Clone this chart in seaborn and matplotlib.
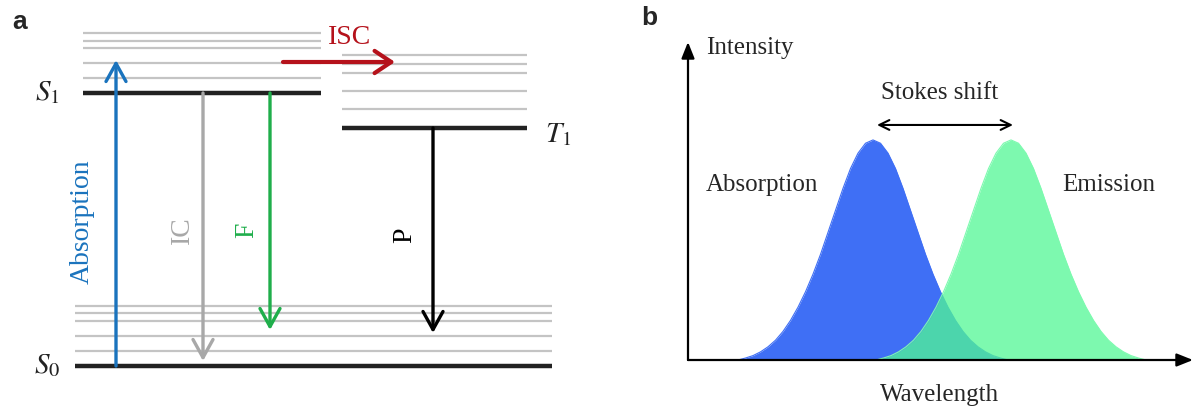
import matplotlib
matplotlib.use("Agg")
import matplotlib.pyplot as plt
import seaborn as sns
import pandas as pd

# ---------------- Panel a data (energies in arbitrary units) ----------------
level_names = ["S0", "S1", "T1"]
level_energy = [0.0, 2.73, 2.38]
s0_vib = [0.15, 0.30, 0.45, 0.53, 0.60]
s1_vib = [2.88, 3.03, 3.18, 3.25, 3.33]
t1_vib = [2.57, 2.75, 2.93, 3.02, 3.11]
transition_labels = ["Absorption", "IC", "F", "P"]
transition_start = [0.0, 2.73, 2.73, 2.38]
transition_end = [3.06, 0.05, 0.36, 0.33]
isc_label = "ISC"
isc_energy = 3.04

# ---------------- Panel b data (spectra) ----------------
abs_x = [10.0, 11.5, 13.0, 14.5, 16.0, 17.5, 19.0, 20.5, 22.0, 23.5, 25.0, 26.5,
         28.0, 29.5, 31.0, 32.5, 34.0, 35.5, 37.0, 38.5, 40.0, 41.5, 43.0, 44.5,
         46.0, 47.5, 49.0, 50.5, 52.0, 53.5, 55.0, 56.5, 58.0, 59.5, 61.0, 62.5, 64.0]
abs_y = [0.0, 0.009, 0.02, 0.037, 0.06, 0.09, 0.13, 0.18, 0.24, 0.31, 0.39, 0.48,
         0.58, 0.68, 0.78, 0.87, 0.94, 0.985, 1.0, 0.985, 0.94, 0.87, 0.78, 0.68,
         0.58, 0.48, 0.39, 0.31, 0.24, 0.18, 0.13, 0.09, 0.06, 0.037, 0.02, 0.009, 0.0]
em_x = [37.6, 39.1, 40.6, 42.1, 43.6, 45.1, 46.6, 48.1, 49.6, 51.1, 52.6, 54.1,
        55.6, 57.1, 58.6, 60.1, 61.6, 63.1, 64.6, 66.1, 67.6, 69.1, 70.6, 72.1,
        73.6, 75.1, 76.6, 78.1, 79.6, 81.1, 82.6, 84.1, 85.6, 87.1, 88.6, 90.1, 91.6]
em_y = [0.0, 0.009, 0.02, 0.037, 0.06, 0.09, 0.13, 0.18, 0.24, 0.31, 0.39, 0.48,
        0.58, 0.68, 0.78, 0.87, 0.94, 0.985, 1.0, 0.985, 0.94, 0.87, 0.78, 0.68,
        0.58, 0.48, 0.39, 0.31, 0.24, 0.18, 0.13, 0.09, 0.06, 0.037, 0.02, 0.009, 0.0]
stokes_from = 37.8
stokes_to = 65.0

sns.set_theme(style="white")
plt.rcParams["font.family"] = ["Liberation Serif", "DejaVu Serif"]
plt.rcParams["mathtext.fontset"] = "stix"

W, H = 1197, 413
fig = plt.figure(figsize=(W / 100, H / 100), dpi=100)
fig.patch.set_facecolor("white")

# ================= Panel a =================
ax = fig.add_axes([0, 0, 600 / W, 1])
ax.set_xlim(0, 600)
ax.set_ylim(-0.47, 3.66)
ax.axis("off")

gray = "#c4c4c4"
spans = {"S0": (75, 552), "S1": (83, 321), "T1": (342, 527)}
vibs = {"S0": s0_vib, "S1": s1_vib, "T1": t1_vib}
for name, e in zip(level_names, level_energy):
    x0, x1 = spans[name]
    ax.hlines(vibs[name], x0, x1, color=gray, lw=1.6, zorder=1)
    ax.hlines(e, x0, x1, color="#222222", lw=3.2, zorder=2)

ax.text(47, level_energy[0], r"$S_0$", fontsize=21, ha="center", va="center", color="#222222")
ax.text(47, level_energy[1], r"$S_1$", fontsize=21, ha="center", va="center", color="#222222")
ax.text(558, 2.31, r"$T_1$", fontsize=21, ha="center", va="center", color="#222222")
ax.text(20, 3.44, "a", fontsize=19, fontweight="bold", family=["Liberation Sans", "DejaVu Sans"],
        ha="center", va="center")

tr_x = [116, 203, 270, 433]
tr_colors = ["#1a73bd", "#a8a8a8", "#1fae4b", "#000000"]
tr_label_x = [82, 182, 247, 405]
tr_label_y = [1.44, 1.36, 1.36, 1.31]
for lab, s, e, x, c, lx, ly in zip(transition_labels, transition_start, transition_end,
                                    tr_x, tr_colors, tr_label_x, tr_label_y):
    ax.annotate("", xy=(x, e), xytext=(x, s),
                arrowprops=dict(arrowstyle="->,head_length=0.65,head_width=0.36",
                                color=c, lw=2.4, shrinkA=0, shrinkB=0, mutation_scale=20),
                zorder=3)
    ax.text(lx, ly, lab, rotation=90, fontsize=20, color=c, ha="center", va="center")

ax.annotate("", xy=(395, isc_energy), xytext=(283, isc_energy),
            arrowprops=dict(arrowstyle="->,head_length=0.6,head_width=0.4",
                            color="#b5121b", lw=3.0, shrinkA=0, shrinkB=0, mutation_scale=20),
            zorder=3)
ax.text(350, 3.29, isc_label, fontsize=20, color="#b5121b", ha="center", va="center")

# ================= Panel b =================
bx = fig.add_axes([688 / W, 53 / H, 505 / W, 318 / H])
bx.set_xlim(0, 101)
bx.set_ylim(0, 1.445)
bx.axis("off")

df_abs = pd.DataFrame({"Wavelength": abs_x, "Intensity": abs_y})
df_em = pd.DataFrame({"Wavelength": em_x, "Intensity": em_y})
bx.fill_between(df_abs["Wavelength"], df_abs["Intensity"], color="#3f6ff5", lw=0, zorder=1)
sns.lineplot(data=df_abs, x="Wavelength", y="Intensity", ax=bx, color="#3f6ff5", lw=0.8, zorder=1)
bx.fill_between(df_em["Wavelength"], df_em["Intensity"], color="#51f894", alpha=0.75, lw=0, zorder=2)
sns.lineplot(data=df_em, x="Wavelength", y="Intensity", ax=bx, color="#7dfaaf", lw=0.8, zorder=2)
bx.set_xlim(0, 101)
bx.set_ylim(0, 1.445)
bx.axis("off")

axis_arrow = dict(arrowstyle="-|>,head_length=0.7,head_width=0.28", color="black",
                  lw=1.6, shrinkA=0, shrinkB=0, mutation_scale=14)
bx.annotate("", xy=(0, 1.0), xytext=(0, 0), xycoords="axes fraction",
            textcoords="axes fraction", arrowprops=axis_arrow, zorder=5)
bx.annotate("", xy=(1.0, 0), xytext=(0, 0), xycoords="axes fraction",
            textcoords="axes fraction", arrowprops=axis_arrow, zorder=5)
bx.annotate("", xy=(stokes_to, 1.068), xytext=(stokes_from, 1.068),
            arrowprops=dict(arrowstyle="<->,head_length=0.45,head_width=0.22", color="black",
                            lw=1.5, shrinkA=0, shrinkB=0, mutation_scale=16), zorder=5)

fs = 18
bx.text(3.6, 1.418, "Intensity", fontsize=fs, ha="left", va="center", clip_on=False)
bx.text(50.4, 1.214, "Stokes shift", fontsize=fs, ha="center", va="center", clip_on=False)
bx.text(3.6, 0.795, "Absorption", fontsize=fs, ha="left", va="center", clip_on=False)
bx.text(74.8, 0.795, "Emission", fontsize=fs, ha="left", va="center", clip_on=False)
bx.text(50.4, -0.16, "Wavelength", fontsize=fs, ha="center", va="center", clip_on=False)
bx.text(-7.8, 1.555, "b", fontsize=19, fontweight="bold", family=["Liberation Sans", "DejaVu Sans"],
        ha="center", va="center", clip_on=False)

fig.savefig("out.png", dpi=100, facecolor="white")
